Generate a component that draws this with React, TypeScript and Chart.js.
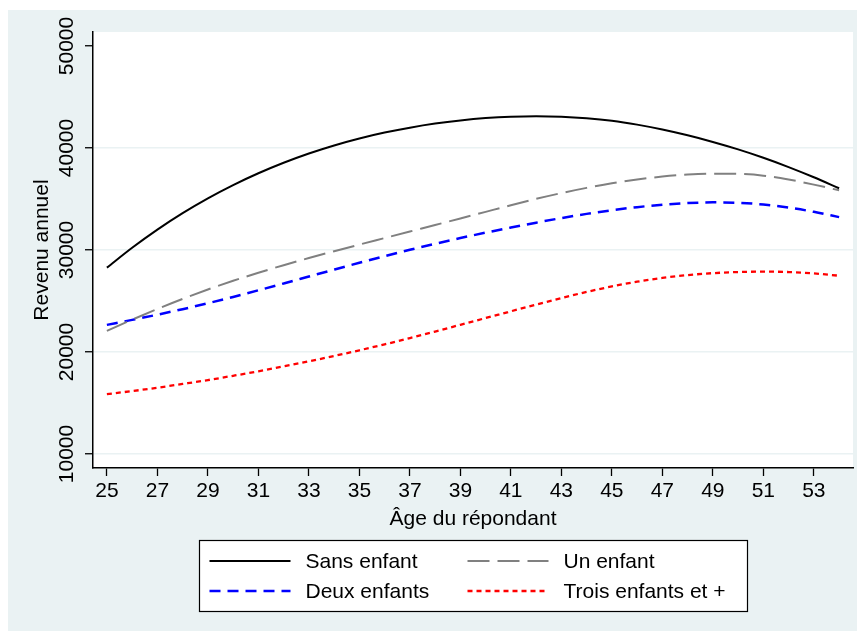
import React, { useEffect, useRef } from "react";
import { Chart, registerables } from "chart.js";

Chart.register(...registerables);

// ---- data ----
const ages = [25, 26, 27, 28, 29, 30, 31, 32, 33, 34, 35, 36, 37, 38, 39, 40, 41, 42, 43, 44, 45, 46, 47, 48, 49, 50, 51, 52, 53, 54];

const sansEnfant = [28270, 30220, 32000, 33610, 35060, 36360, 37520, 38550, 39460, 40250, 40930, 41510, 41990, 42390, 42700, 42930, 43070, 43120, 43070, 42920, 42670, 42290, 41810, 41240, 40590, 39860, 39040, 38130, 37130, 36050];

const unEnfant = [22070, 23170, 24220, 25210, 26130, 26980, 27770, 28510, 29210, 29880, 30530, 31170, 31810, 32450, 33090, 33740, 34390, 35010, 35580, 36090, 36540, 36910, 37200, 37390, 37480, 37460, 37290, 36910, 36410, 35850];

const deuxEnfants = [22660, 23150, 23660, 24200, 24780, 25400, 26050, 26720, 27400, 28080, 28750, 29400, 30020, 30610, 31170, 31700, 32200, 32680, 33130, 33540, 33900, 34200, 34440, 34600, 34670, 34630, 34460, 34160, 33740, 33220];

const troisEnfants = [15870, 16170, 16500, 16870, 17250, 17670, 18110, 18590, 19090, 19610, 20170, 20750, 21370, 22000, 22670, 23330, 23990, 24650, 25290, 25890, 26430, 26890, 27260, 27540, 27730, 27840, 27880, 27840, 27700, 27480];

const seriesLabels = ["Sans enfant", "Un enfant", "Deux enfants", "Trois enfants et +"];
const xTickValues = [25, 27, 29, 31, 33, 35, 37, 39, 41, 43, 45, 47, 49, 51, 53];
const yTickValues = [10000, 20000, 30000, 40000, 50000];
const xTitle = "Âge du répondant";
const yTitle = "Revenu annuel";

const FONT_FAMILY = '"Liberation Sans", Arial, Helvetica, sans-serif';
const BG = "#EAF2F3";

const plotBackground = {
  id: "plotBackground",
  beforeDraw(chart: any) {
    const { ctx, chartArea } = chart;
    ctx.save();
    ctx.fillStyle = "#ffffff";
    ctx.fillRect(chartArea.left, chartArea.top, chartArea.right - chartArea.left, chartArea.bottom - chartArea.top);
    ctx.restore();
  },
};

const boxLegend = {
  id: "boxLegend",
  afterDraw(chart: any) {
    const { ctx, chartArea } = chart;
    const ds = chart.data.datasets;
    const cx = (chartArea.left + chartArea.right) / 2;
    const boxW = 548;
    const boxH = 71;
    const boxX = Math.round(cx - boxW / 2) + 0.5;
    const boxY = Math.round(chartArea.bottom + 72) + 0.5;
    ctx.save();
    ctx.fillStyle = "#ffffff";
    ctx.fillRect(boxX, boxY, boxW, boxH);
    ctx.strokeStyle = "#000000";
    ctx.lineWidth = 1.2;
    ctx.strokeRect(boxX, boxY, boxW, boxH);

    const rowY = [boxY + 20.5, boxY + 50.5];
    const colX = [boxX + 10, boxX + 268];
    const lineLen = 81;
    const textGap = 15;
    ctx.font = `21px ${FONT_FAMILY}`;
    ctx.textBaseline = "middle";
    ctx.textAlign = "left";
    ds.forEach((d: any, i: number) => {
      const r = Math.floor(i / 2);
      const c = i % 2;
      const x0 = colX[c];
      const y0 = rowY[r];
      ctx.beginPath();
      ctx.setLineDash(d.borderDash || []);
      ctx.strokeStyle = d.borderColor;
      ctx.lineWidth = d.borderWidth;
      ctx.moveTo(x0, y0);
      ctx.lineTo(x0 + lineLen, y0);
      ctx.stroke();
      ctx.setLineDash([]);
      ctx.fillStyle = "#000000";
      ctx.fillText(d.label, x0 + lineLen + textGap, y0 + 1);
    });
    ctx.restore();
  },
};

export default function App() {
  const canvasRef = useRef<HTMLCanvasElement | null>(null);

  useEffect(() => {
    const canvas = canvasRef.current;
    if (!canvas) return;
    const mk = (label: string, values: number[], color: string, width: number, dash: number[]) => ({
      label,
      data: ages.map((a, i) => ({ x: a, y: values[i] })),
      borderColor: color,
      backgroundColor: color,
      borderWidth: width,
      borderDash: dash,
      pointRadius: 0,
      fill: false,
      cubicInterpolationMode: "monotone" as const,
    });

    const chart = new Chart(canvas, {
      type: "line",
      data: {
        datasets: [
          mk(seriesLabels[0], sansEnfant, "#000000", 2, []),
          mk(seriesLabels[1], unEnfant, "#808080", 2, [22, 8]),
          mk(seriesLabels[2], deuxEnfants, "#0000FF", 2.5, [11, 7]),
          mk(seriesLabels[3], troisEnfants, "#FF0000", 2.3, [5, 4]),
        ],
      },
      options: {
        animation: false,
        responsive: false,
        maintainAspectRatio: false,
        devicePixelRatio: 1,
        layout: { padding: { left: 0, right: 12, top: 22, bottom: 99 } },
        plugins: {
          legend: { display: false },
          tooltip: { enabled: false },
        },
        scales: {
          x: {
            type: "linear",
            min: 24.45,
            max: 54.55,
            afterBuildTicks: (scale: any) => {
              scale.ticks = xTickValues.map((v) => ({ value: v }));
            },
            afterFit: (scale: any) => {
              scale.height = 64;
            },
            grid: {
              drawOnChartArea: false,
              drawTicks: true,
              tickLength: 8,
              tickColor: "#000000",
              tickWidth: 1.3,
            },
            border: { display: true, color: "#000000", width: 1.5 },
            ticks: {
              autoSkip: false,
              maxRotation: 0,
              minRotation: 0,
              padding: 3,
              color: "#000000",
              font: { family: FONT_FAMILY, size: 21 },
              callback: (v: any) => String(v),
            },
            title: {
              display: true,
              text: xTitle,
              color: "#000000",
              font: { family: FONT_FAMILY, size: 21 },
              padding: { top: 0, bottom: 0 },
            },
          },
          y: {
            type: "linear",
            min: 8630,
            max: 51370,
            afterBuildTicks: (scale: any) => {
              scale.ticks = yTickValues.map((v) => ({ value: v }));
            },
            afterFit: (scale: any) => {
              scale.width = 85;
            },
            grid: {
              drawOnChartArea: true,
              drawTicks: true,
              tickLength: 8,
              tickColor: "#000000",
              tickWidth: 1.3,
              lineWidth: 1.5,
              color: (ctx: any) => (ctx.tick && ctx.tick.value === 50000 ? "rgba(0,0,0,0)" : BG),
            },
            border: { display: true, color: "#000000", width: 1.5 },
            ticks: {
              autoSkip: false,
              minRotation: 90,
              maxRotation: 90,
              crossAlign: "center",
              padding: -11,
              color: "#000000",
              font: { family: FONT_FAMILY, size: 21 },
              callback: (v: any) => String(v),
            },
            title: {
              display: true,
              text: yTitle,
              color: "#000000",
              font: { family: FONT_FAMILY, size: 21 },
              padding: { top: 22, bottom: 0 },
            },
          },
        },
      },
      plugins: [plotBackground, boxLegend],
    });

    return () => {
      chart.destroy();
    };
  }, []);

  return (
    <div style={{ paddingTop: 2 }}>
      <div style={{ width: 857, height: 621, background: BG }}>
        <canvas ref={canvasRef} width={857} height={621} style={{ display: "block" }} />
      </div>
    </div>
  );
}
